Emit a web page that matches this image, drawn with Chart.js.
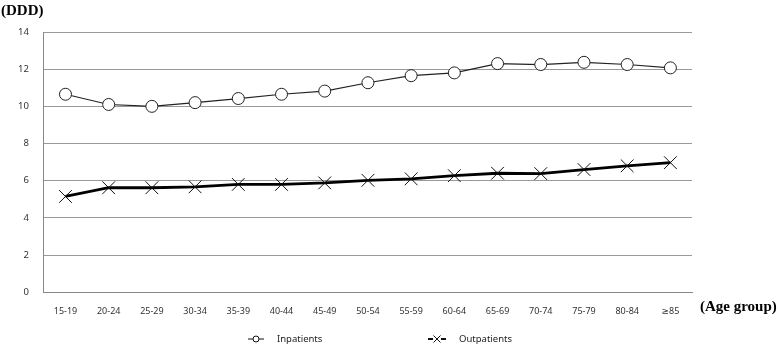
<!DOCTYPE html>
<html>
<head>
<meta charset="utf-8">
<script src="https://cdn.jsdelivr.net/npm/chart.js@4"></script>
<style>
  html, body { margin: 0; padding: 0; background: #fff; }
  #wrap { width: 778px; height: 347px; }
</style>
</head>
<body>
<div id="wrap"><canvas id="ddChart" width="778" height="347"></canvas></div>
<script>
const ageGroups = ["15-19", "20-24", "25-29", "30-34", "35-39", "40-44", "45-49", "50-54",
  "55-59", "60-64", "65-69", "70-74", "75-79", "80-84", "\u226585"];
const inpatients = [10.65, 10.1, 10.0, 10.2, 10.42, 10.65, 10.82, 11.27, 11.65, 11.8, 12.3, 12.25, 12.37, 12.25, 12.07];
const outpatients = [5.15, 5.62, 5.62, 5.67, 5.8, 5.8, 5.88, 6.02, 6.1, 6.27, 6.4, 6.38, 6.6, 6.8, 6.97];
const yTicks = [0, 2, 4, 6, 8, 10, 12, 14];

const FONT = "'Noto Sans', 'DejaVu Sans', sans-serif";

// axis titles and the bottom legend (line + marker + name)
const extras = {
  id: "extras",
  afterDraw(chart) {
    const ctx = chart.ctx;
    const area = chart.chartArea;
    ctx.save();
    ctx.fillStyle = "#000";
    ctx.font = "bold 15px 'Liberation Serif', 'DejaVu Serif', serif";
    ctx.textBaseline = "middle";
    ctx.textAlign = "left";
    ctx.fillText("(DDD)", 1, 11);
    ctx.fillText("(Age group)", area.right + 8, area.bottom + 15);

    const ly = 339;
    ctx.font = "9.5px " + FONT;
    ctx.fillStyle = "#222";
    chart.data.datasets.forEach((ds, i) => {
      const x0 = i === 0 ? 248 : 428;
      const x1 = i === 0 ? 264 : 446;
      const cx = (x0 + x1) / 2;
      ctx.strokeStyle = "#111";
      ctx.lineWidth = i === 0 ? 1 : 2;
      ctx.beginPath();
      ctx.moveTo(x0, ly);
      ctx.lineTo(x1, ly);
      ctx.stroke();
      if (i === 0) {
        ctx.fillStyle = "#fff";
        ctx.beginPath();
        ctx.arc(cx, ly, 3, 0, Math.PI * 2);
        ctx.fill();
        ctx.lineWidth = 1;
        ctx.stroke();
      } else {
        ctx.fillStyle = "#fff";
        ctx.fillRect(cx - 4, ly - 5, 8, 10);
        ctx.lineWidth = 1;
        ctx.beginPath();
        ctx.moveTo(cx - 3.5, ly - 3.5); ctx.lineTo(cx + 3.5, ly + 3.5);
        ctx.moveTo(cx + 3.5, ly - 3.5); ctx.lineTo(cx - 3.5, ly + 3.5);
        ctx.stroke();
      }
      ctx.fillStyle = "#222";
      ctx.fillText(ds.label, x1 + 13, ly);
    });
    ctx.restore();
  }
};

new Chart(document.getElementById("ddChart"), {
  type: "line",
  data: {
    labels: ageGroups,
    datasets: [
      {
        label: "Inpatients",
        data: inpatients,
        borderColor: "#222",
        borderWidth: 1.2,
        pointStyle: "circle",
        pointRadius: 6,
        pointBackgroundColor: "#fff",
        pointBorderColor: "#222",
        pointBorderWidth: 1,
        tension: 0
      },
      {
        label: "Outpatients",
        data: outpatients,
        borderColor: "#000",
        borderWidth: 2.8,
        pointStyle: "crossRot",
        pointRadius: 9,
        pointBorderColor: "#111",
        pointBorderWidth: 1,
        tension: 0
      }
    ]
  },
  options: {
    responsive: false,
    animation: false,
    devicePixelRatio: 1,
    layout: { padding: { top: 32, right: 86, left: 3, bottom: 24 } },
    scales: {
      x: {
        offset: true,
        grid: { display: false },
        border: { display: true, color: "#888", width: 1 },
        ticks: {
          color: "#333",
          font: { family: FONT, size: 9 },
          padding: 6,
          maxRotation: 0,
          autoSkip: false
        }
      },
      y: {
        min: 0,
        max: 14,
        afterBuildTicks(scale) {
          scale.ticks = yTicks.map((v) => ({ value: v }));
        },
        grid: { color: "#999", lineWidth: 1, drawTicks: false },
        border: { display: true, color: "#888", width: 1 },
        ticks: {
          color: "#333",
          font: { family: FONT, size: 9.5 },
          padding: 15
        }
      }
    },
    plugins: {
      legend: { display: false },
      tooltip: { enabled: false }
    }
  },
  plugins: [extras]
});
</script>
</body>
</html>
